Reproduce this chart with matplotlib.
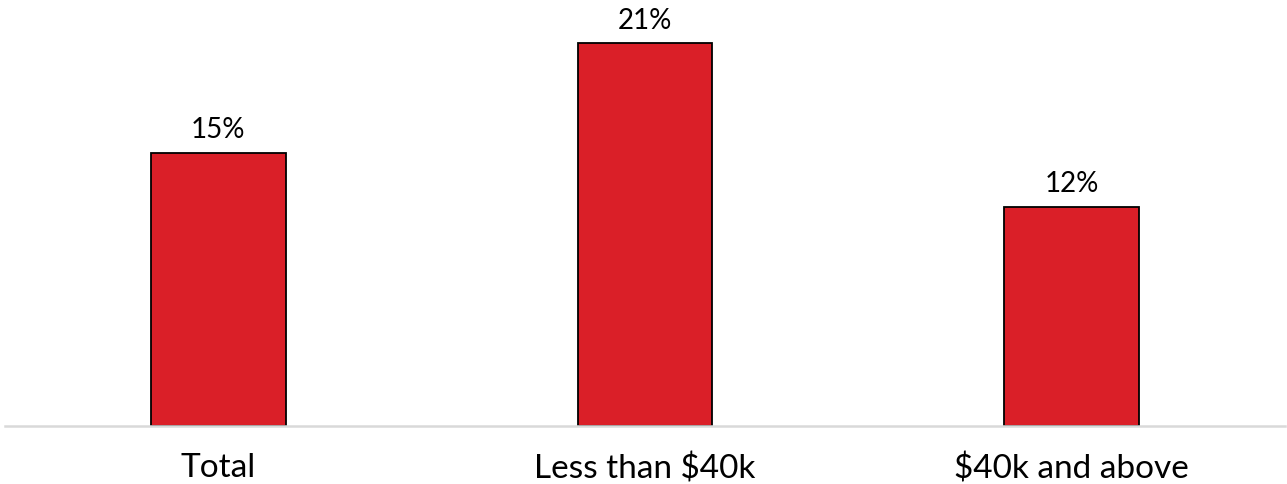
import matplotlib.pyplot as plt

categories = ["Total", "Less than $40k", "$40k and above"]
values = [15, 21, 12]

plt.rcParams['font.family'] = ['Lato', 'DejaVu Sans']

fig = plt.figure(figsize=(12.87, 4.85), dpi=100)
ax = fig.add_axes([5 / 1287, 58 / 485, 1280 / 1287, 419 / 485])

x = range(len(categories))
bars = ax.bar(x, values, width=0.316, color="#DA1F28", edgecolor="black", linewidth=1.3)

for b, v in zip(bars, values):
    ax.text(b.get_x() + b.get_width() / 2, v + 0.6, f"{v}%",
            ha="center", va="bottom", fontsize=20, color="black")

ax.set_xlim(-0.5, 2.5)
ax.set_ylim(0, 23)
ax.set_xticks(list(x))
ax.set_xticklabels(categories, fontsize=24)
ax.tick_params(axis="x", length=0, pad=19)
ax.set_yticks([])
for s in ["top", "right", "left"]:
    ax.spines[s].set_visible(False)
ax.spines["bottom"].set_color("#d9d9d9")
ax.spines["bottom"].set_linewidth(1.8)

fig.savefig("out.png", dpi=100)
